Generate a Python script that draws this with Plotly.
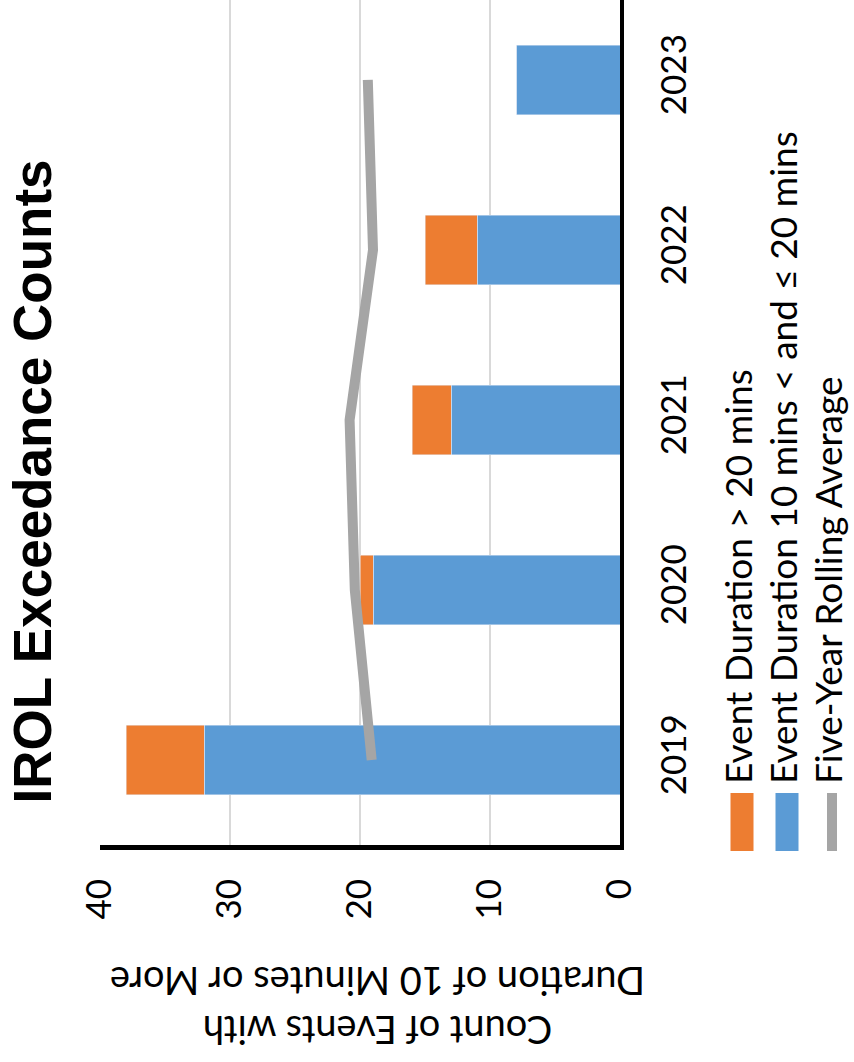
import plotly.graph_objects as go

# Data
years = ["2019", "2020", "2021", "2022", "2023"]
over_20 = [6, 1, 3, 4, 0]            # Event Duration > 20 mins
between_10_20 = [32, 19, 13, 11, 8]  # Event Duration 10 mins < and <= 20 mins
rolling_avg = [19.1, 20.4, 20.8, 19.0, 19.4]  # Five-Year Rolling Average
value_ticks = [0, 10, 20, 30, 40]

BLUE = "#5B9BD5"
ORANGE = "#ED7D31"
GRAY = "#A5A5A5"
FONT = "Lato"

W, H = 854, 1062
L, R, T, B = 100, 620, 0, 845  # plot area in pixels


def px(x):
    return (x - L) / (R - L)


def py(y):
    return (B - y) / (B - T)


fig = go.Figure()
fig.add_trace(go.Bar(y=years, x=between_10_20, orientation="h", marker_color=BLUE,
                     width=0.41, name="Event Duration 10 mins < and ≤ 20 mins"))
fig.add_trace(go.Bar(y=years, x=over_20, orientation="h", marker_color=ORANGE,
                     width=0.41, name="Event Duration > 20 mins"))
fig.add_trace(go.Scatter(y=years, x=rolling_avg, mode="lines",
                         line=dict(color=GRAY, width=10),
                         name="Five-Year Rolling Average"))

fig.update_layout(
    width=W, height=H,
    margin=dict(l=L, r=W - R, t=T, b=H - B, pad=0),
    barmode="stack",
    showlegend=False,
    plot_bgcolor="white", paper_bgcolor="white",
    font=dict(family=FONT, color="black"),
)

fig.update_xaxes(
    range=[40, 0], tickvals=value_ticks, tickangle=-90,
    tickfont=dict(size=35, family=FONT), ticklabelstandoff=15,
    showgrid=True, gridcolor="#D9D9D9", gridwidth=2, zeroline=False,
    showline=True, linecolor="black", linewidth=5, ticks="",
)
fig.update_yaxes(
    type="category", categoryorder="array", categoryarray=years,
    range=[-0.5, 4.47], side="right", tickangle=-90,
    tickfont=dict(size=35, family=FONT), ticklabelstandoff=20,
    showgrid=False, zeroline=False,
    showline=True, linecolor="black", linewidth=4, ticks="",
)

annotations = [
    dict(text="<b>IROL Exceedance Counts</b>", x=px(1), y=py(482), textangle=-90,
         font=dict(family="Liberation Sans", size=53, color="black")),
    dict(text="Count of Events with<br>Duration of 10 Minutes or More",
         x=px(378), y=py(1056), textangle=180,
         font=dict(family=FONT, size=38, color="black")),
]

# Legend: swatches with rotated labels
legend_items = [
    ("Event Duration > 20 mins", ORANGE, 742, "box"),
    ("Event Duration 10 mins < and ≤ 20 mins", BLUE, 787, "box"),
    ("Five-Year Rolling Average", GRAY, 832, "line"),
]
shapes = []
for label, color, cx, kind in legend_items:
    if kind == "box":
        shapes.append(dict(type="rect", xref="paper", yref="paper",
                           x0=px(cx - 11.5), x1=px(cx + 11.5), y0=py(851), y1=py(793),
                           fillcolor=color, line=dict(width=0)))
    else:
        shapes.append(dict(type="line", xref="paper", yref="paper",
                           x0=px(cx), x1=px(cx), y0=py(851), y1=py(793),
                           line=dict(color=color, width=10)))
    annotations.append(dict(text=label, x=px(cx + 20), y=py(786), yanchor="bottom",
                            textangle=-90, font=dict(family=FONT, size=37, color="black")))

for a in annotations:
    a.setdefault("xref", "paper")
    a.setdefault("yref", "paper")
    a["showarrow"] = False
fig.update_layout(annotations=annotations, shapes=shapes)

fig.write_html("out.html")
